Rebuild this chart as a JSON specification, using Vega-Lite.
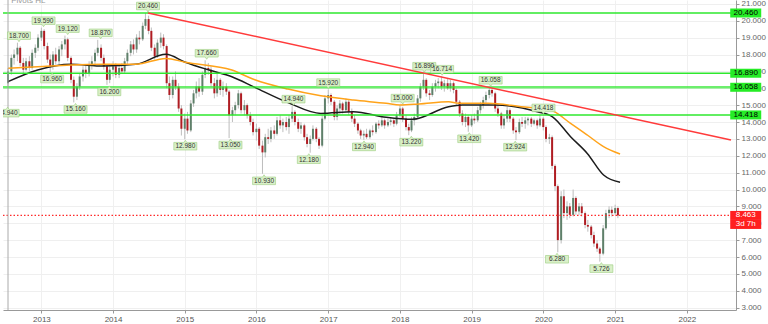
{
"$schema":"https://vega.github.io/schema/vega-lite/v6.json",
"width":733,"height":310,
"autosize":{"type":"none"},
"padding":{"left":3,"top":0,"right":32,"bottom":14},
"background":"white",
"config":{"view":{"stroke":null},"font":"Liberation Sans",
 "axisX":{"title":null,"format":"%Y","labelFontSize":8,"labelColor":"#555","tickSize":3,"tickColor":"#999","domainColor":"#999","grid":true,"gridColor":"#f0f0f0","labelPadding":2,"labelFlush":false,"labelOverlap":false},
 "axisY":{"title":null,"format":".3f","labelFontSize":8,"labelColor":"#666","tickSize":3,"tickColor":"#999","domainColor":"#999","grid":true,"gridColor":"#efefef","labelPadding":2,"labelOverlap":false,"labelBound":false}},
"datasets":{
"candles":[
{"d":"2012-07-15","o":16.3,"h":17.2,"l":16.0,"c":17.0},
{"d":"2012-08-01","o":17.0,"h":18.0,"l":16.8,"c":17.8},
{"d":"2012-08-15","o":17.8,"h":18.3,"l":17.4,"c":18.0},
{"d":"2012-09-01","o":18.0,"h":18.7,"l":17.6,"c":18.4},
{"d":"2012-09-15","o":18.4,"h":18.5,"l":17.3,"c":17.5},
{"d":"2012-10-01","o":17.5,"h":17.8,"l":16.9,"c":17.1},
{"d":"2012-10-15","o":17.1,"h":17.8,"l":17.0,"c":17.6},
{"d":"2012-11-01","o":17.6,"h":17.9,"l":17.0,"c":17.2},
{"d":"2012-11-15","o":17.2,"h":18.3,"l":17.1,"c":18.1},
{"d":"2012-12-01","o":18.1,"h":18.6,"l":17.8,"c":18.4},
{"d":"2012-12-15","o":18.4,"h":19.2,"l":18.2,"c":19.0},
{"d":"2013-01-01","o":19.0,"h":19.59,"l":18.8,"c":19.4},
{"d":"2013-01-15","o":19.4,"h":19.5,"l":18.3,"c":18.5},
{"d":"2013-02-01","o":18.5,"h":18.7,"l":17.5,"c":17.7},
{"d":"2013-02-15","o":17.7,"h":18.0,"l":16.96,"c":17.3},
{"d":"2013-03-01","o":17.3,"h":18.2,"l":17.1,"c":18.0},
{"d":"2013-03-15","o":18.0,"h":18.4,"l":17.4,"c":17.6},
{"d":"2013-04-01","o":17.6,"h":18.5,"l":17.4,"c":18.3},
{"d":"2013-04-15","o":18.3,"h":18.8,"l":17.9,"c":18.6},
{"d":"2013-05-01","o":18.6,"h":19.12,"l":18.3,"c":18.9},
{"d":"2013-05-15","o":18.9,"h":19.0,"l":17.6,"c":17.8},
{"d":"2013-06-01","o":17.8,"h":17.9,"l":16.3,"c":16.5},
{"d":"2013-06-15","o":16.5,"h":16.7,"l":15.16,"c":15.5},
{"d":"2013-07-01","o":15.5,"h":16.3,"l":15.3,"c":16.1},
{"d":"2013-07-15","o":16.1,"h":16.9,"l":15.9,"c":16.7},
{"d":"2013-08-01","o":16.7,"h":17.3,"l":16.4,"c":17.1},
{"d":"2013-08-15","o":17.1,"h":17.4,"l":16.6,"c":16.9},
{"d":"2013-09-01","o":16.9,"h":17.6,"l":16.7,"c":17.4},
{"d":"2013-09-15","o":17.4,"h":17.9,"l":17.1,"c":17.6},
{"d":"2013-10-01","o":17.6,"h":18.3,"l":17.4,"c":18.1},
{"d":"2013-10-15","o":18.1,"h":18.87,"l":17.9,"c":18.4},
{"d":"2013-11-01","o":18.4,"h":18.6,"l":17.6,"c":17.8},
{"d":"2013-11-15","o":17.8,"h":18.0,"l":17.1,"c":17.3},
{"d":"2013-12-01","o":17.3,"h":17.4,"l":16.2,"c":16.5},
{"d":"2013-12-15","o":16.5,"h":17.3,"l":16.3,"c":17.1},
{"d":"2014-01-01","o":17.1,"h":17.6,"l":16.7,"c":17.3},
{"d":"2014-01-15","o":17.3,"h":17.5,"l":16.6,"c":16.8},
{"d":"2014-02-01","o":16.8,"h":17.4,"l":16.6,"c":17.2},
{"d":"2014-02-15","o":17.2,"h":17.5,"l":16.9,"c":17.0},
{"d":"2014-03-01","o":17.0,"h":17.8,"l":16.9,"c":17.6},
{"d":"2014-03-15","o":17.6,"h":18.3,"l":17.4,"c":18.1},
{"d":"2014-04-01","o":18.1,"h":18.8,"l":17.9,"c":18.6},
{"d":"2014-04-15","o":18.6,"h":18.9,"l":18.0,"c":18.3},
{"d":"2014-05-01","o":18.3,"h":19.2,"l":18.1,"c":19.0},
{"d":"2014-05-15","o":19.0,"h":19.4,"l":18.6,"c":18.9},
{"d":"2014-06-01","o":18.9,"h":19.9,"l":18.8,"c":19.7},
{"d":"2014-06-15","o":19.7,"h":20.46,"l":19.5,"c":20.1},
{"d":"2014-07-01","o":20.1,"h":20.3,"l":19.2,"c":19.4},
{"d":"2014-07-15","o":19.4,"h":19.6,"l":18.2,"c":18.4},
{"d":"2014-08-01","o":18.4,"h":18.6,"l":17.7,"c":17.9},
{"d":"2014-08-15","o":17.9,"h":18.9,"l":17.8,"c":18.7},
{"d":"2014-09-01","o":18.7,"h":19.3,"l":18.4,"c":19.0},
{"d":"2014-09-15","o":19.0,"h":19.2,"l":18.3,"c":18.5},
{"d":"2014-10-01","o":18.5,"h":18.6,"l":16.0,"c":16.3},
{"d":"2014-10-15","o":16.3,"h":16.7,"l":15.3,"c":15.6},
{"d":"2014-11-01","o":15.6,"h":16.7,"l":15.4,"c":16.5},
{"d":"2014-11-15","o":16.5,"h":17.0,"l":15.9,"c":16.1},
{"d":"2014-12-01","o":16.1,"h":16.3,"l":14.6,"c":14.8},
{"d":"2014-12-15","o":14.8,"h":15.0,"l":13.2,"c":13.6},
{"d":"2015-01-01","o":13.6,"h":14.5,"l":12.98,"c":14.2},
{"d":"2015-01-15","o":14.2,"h":14.6,"l":13.3,"c":13.5},
{"d":"2015-02-01","o":13.5,"h":15.3,"l":13.4,"c":15.1},
{"d":"2015-02-15","o":15.1,"h":15.9,"l":14.9,"c":15.7},
{"d":"2015-03-01","o":15.7,"h":16.4,"l":15.4,"c":16.1},
{"d":"2015-03-15","o":16.1,"h":16.6,"l":15.5,"c":15.8},
{"d":"2015-04-01","o":15.8,"h":17.0,"l":15.6,"c":16.8},
{"d":"2015-04-15","o":16.8,"h":17.66,"l":16.6,"c":17.2},
{"d":"2015-05-01","o":17.2,"h":17.5,"l":16.8,"c":17.1},
{"d":"2015-05-15","o":17.1,"h":17.3,"l":16.1,"c":16.3},
{"d":"2015-06-01","o":16.3,"h":16.6,"l":15.4,"c":15.7},
{"d":"2015-06-15","o":15.7,"h":16.9,"l":15.5,"c":16.5},
{"d":"2015-07-01","o":16.5,"h":16.6,"l":15.6,"c":15.9},
{"d":"2015-07-15","o":15.9,"h":16.4,"l":15.5,"c":16.1},
{"d":"2015-08-01","o":16.1,"h":16.3,"l":15.6,"c":15.8},
{"d":"2015-08-15","o":15.8,"h":15.9,"l":13.05,"c":14.4},
{"d":"2015-09-01","o":14.4,"h":14.9,"l":14.0,"c":14.7},
{"d":"2015-09-15","o":14.7,"h":15.2,"l":14.4,"c":15.0},
{"d":"2015-10-01","o":15.0,"h":15.9,"l":14.8,"c":15.7},
{"d":"2015-10-15","o":15.7,"h":15.8,"l":14.5,"c":14.7},
{"d":"2015-11-01","o":14.7,"h":15.3,"l":14.4,"c":15.0},
{"d":"2015-11-15","o":15.0,"h":15.1,"l":14.2,"c":14.4},
{"d":"2015-12-01","o":14.4,"h":14.6,"l":13.8,"c":14.0},
{"d":"2015-12-15","o":14.0,"h":14.2,"l":13.2,"c":13.4},
{"d":"2016-01-01","o":13.4,"h":13.9,"l":12.9,"c":13.6},
{"d":"2016-01-15","o":13.6,"h":13.7,"l":12.4,"c":12.6},
{"d":"2016-02-01","o":12.6,"h":12.9,"l":10.93,"c":12.2},
{"d":"2016-02-15","o":12.2,"h":13.3,"l":11.9,"c":13.1},
{"d":"2016-03-01","o":13.1,"h":13.6,"l":12.7,"c":13.0},
{"d":"2016-03-15","o":13.0,"h":13.7,"l":12.8,"c":13.5},
{"d":"2016-04-01","o":13.5,"h":13.8,"l":13.0,"c":13.3},
{"d":"2016-04-15","o":13.3,"h":14.3,"l":13.2,"c":14.1},
{"d":"2016-05-01","o":14.1,"h":14.4,"l":13.6,"c":13.8},
{"d":"2016-05-15","o":13.8,"h":14.2,"l":13.4,"c":14.0},
{"d":"2016-06-01","o":14.0,"h":14.3,"l":13.5,"c":13.7},
{"d":"2016-06-15","o":13.7,"h":14.4,"l":13.3,"c":14.2},
{"d":"2016-07-01","o":14.2,"h":14.94,"l":14.0,"c":14.6},
{"d":"2016-07-15","o":14.6,"h":14.7,"l":13.8,"c":14.0},
{"d":"2016-08-01","o":14.0,"h":14.2,"l":13.4,"c":13.6},
{"d":"2016-08-15","o":13.6,"h":14.0,"l":13.3,"c":13.8},
{"d":"2016-09-01","o":13.8,"h":13.9,"l":12.9,"c":13.1},
{"d":"2016-09-15","o":13.1,"h":13.3,"l":12.5,"c":12.7},
{"d":"2016-10-01","o":12.7,"h":13.2,"l":12.18,"c":13.0},
{"d":"2016-10-15","o":13.0,"h":13.8,"l":12.9,"c":13.6},
{"d":"2016-11-01","o":13.6,"h":13.7,"l":12.8,"c":13.0},
{"d":"2016-11-15","o":13.0,"h":13.1,"l":12.4,"c":12.6},
{"d":"2016-12-01","o":12.6,"h":14.4,"l":12.5,"c":14.2},
{"d":"2016-12-15","o":14.2,"h":15.6,"l":14.1,"c":15.4},
{"d":"2017-01-01","o":15.4,"h":15.92,"l":15.1,"c":15.6},
{"d":"2017-01-15","o":15.6,"h":15.7,"l":15.0,"c":15.2},
{"d":"2017-02-01","o":15.2,"h":15.3,"l":14.1,"c":14.3},
{"d":"2017-02-15","o":14.3,"h":15.0,"l":14.1,"c":14.8},
{"d":"2017-03-01","o":14.8,"h":15.3,"l":14.5,"c":15.1},
{"d":"2017-03-15","o":15.1,"h":15.2,"l":14.5,"c":14.7},
{"d":"2017-04-01","o":14.7,"h":15.4,"l":14.6,"c":15.2},
{"d":"2017-04-15","o":15.2,"h":15.3,"l":14.4,"c":14.6},
{"d":"2017-05-01","o":14.6,"h":14.8,"l":14.0,"c":14.2},
{"d":"2017-05-15","o":14.2,"h":14.4,"l":13.7,"c":13.9},
{"d":"2017-06-01","o":13.9,"h":14.0,"l":13.3,"c":13.5},
{"d":"2017-06-15","o":13.5,"h":13.6,"l":13.0,"c":13.2},
{"d":"2017-07-01","o":13.2,"h":13.5,"l":12.94,"c":13.3},
{"d":"2017-07-15","o":13.3,"h":13.6,"l":13.0,"c":13.1},
{"d":"2017-08-01","o":13.1,"h":13.6,"l":13.0,"c":13.5},
{"d":"2017-08-15","o":13.5,"h":13.8,"l":13.2,"c":13.4},
{"d":"2017-09-01","o":13.4,"h":14.0,"l":13.3,"c":13.9},
{"d":"2017-09-15","o":13.9,"h":14.1,"l":13.6,"c":13.8},
{"d":"2017-10-01","o":13.8,"h":14.3,"l":13.7,"c":14.1},
{"d":"2017-10-15","o":14.1,"h":14.2,"l":13.6,"c":13.8},
{"d":"2017-11-01","o":13.8,"h":14.2,"l":13.7,"c":14.0},
{"d":"2017-11-15","o":14.0,"h":14.3,"l":13.8,"c":14.1},
{"d":"2017-12-01","o":14.1,"h":14.2,"l":13.7,"c":13.9},
{"d":"2017-12-15","o":13.9,"h":14.6,"l":13.8,"c":14.4},
{"d":"2018-01-01","o":14.4,"h":15.0,"l":14.3,"c":14.8},
{"d":"2018-01-15","o":14.8,"h":14.9,"l":14.0,"c":14.2},
{"d":"2018-02-01","o":14.2,"h":14.4,"l":13.5,"c":13.7},
{"d":"2018-02-15","o":13.7,"h":13.9,"l":13.22,"c":13.5},
{"d":"2018-03-01","o":13.5,"h":14.3,"l":13.4,"c":14.1},
{"d":"2018-03-15","o":14.1,"h":14.5,"l":13.8,"c":14.3},
{"d":"2018-04-01","o":14.3,"h":15.6,"l":14.2,"c":15.4},
{"d":"2018-04-15","o":15.4,"h":16.3,"l":15.2,"c":16.1},
{"d":"2018-05-01","o":16.1,"h":16.89,"l":15.9,"c":16.5},
{"d":"2018-05-15","o":16.5,"h":16.6,"l":15.5,"c":15.7},
{"d":"2018-06-01","o":15.7,"h":15.9,"l":15.3,"c":15.6},
{"d":"2018-06-15","o":15.6,"h":16.3,"l":15.5,"c":16.1},
{"d":"2018-07-01","o":16.1,"h":16.5,"l":15.8,"c":16.3},
{"d":"2018-07-15","o":16.3,"h":16.6,"l":16.0,"c":16.4},
{"d":"2018-08-01","o":16.4,"h":16.714,"l":15.9,"c":16.1},
{"d":"2018-08-15","o":16.1,"h":16.5,"l":15.8,"c":16.3},
{"d":"2018-09-01","o":16.3,"h":16.6,"l":15.9,"c":16.0},
{"d":"2018-09-15","o":16.0,"h":16.5,"l":15.8,"c":16.3},
{"d":"2018-10-01","o":16.3,"h":16.4,"l":15.7,"c":15.9},
{"d":"2018-10-15","o":15.9,"h":16.0,"l":15.0,"c":15.2},
{"d":"2018-11-01","o":15.2,"h":15.3,"l":14.3,"c":14.5},
{"d":"2018-11-15","o":14.5,"h":14.7,"l":13.8,"c":14.0},
{"d":"2018-12-01","o":14.0,"h":14.5,"l":13.7,"c":14.3},
{"d":"2018-12-15","o":14.3,"h":14.4,"l":13.42,"c":13.8},
{"d":"2019-01-01","o":13.8,"h":14.4,"l":13.7,"c":14.2},
{"d":"2019-01-15","o":14.2,"h":14.5,"l":13.9,"c":14.1},
{"d":"2019-02-01","o":14.1,"h":14.9,"l":14.0,"c":14.7},
{"d":"2019-02-15","o":14.7,"h":15.2,"l":14.5,"c":15.0},
{"d":"2019-03-01","o":15.0,"h":15.5,"l":14.8,"c":15.3},
{"d":"2019-03-15","o":15.3,"h":15.8,"l":15.1,"c":15.6},
{"d":"2019-04-01","o":15.6,"h":16.058,"l":15.4,"c":15.9},
{"d":"2019-04-15","o":15.9,"h":16.0,"l":15.5,"c":15.7},
{"d":"2019-05-01","o":15.7,"h":15.8,"l":14.6,"c":14.8},
{"d":"2019-05-15","o":14.8,"h":15.0,"l":14.3,"c":14.5},
{"d":"2019-06-01","o":14.5,"h":14.6,"l":13.6,"c":13.8},
{"d":"2019-06-15","o":13.8,"h":14.4,"l":13.6,"c":14.2},
{"d":"2019-07-01","o":14.2,"h":14.9,"l":14.0,"c":14.7},
{"d":"2019-07-15","o":14.7,"h":14.8,"l":14.0,"c":14.2},
{"d":"2019-08-01","o":14.2,"h":14.3,"l":13.3,"c":13.5},
{"d":"2019-08-15","o":13.5,"h":13.7,"l":12.924,"c":13.4},
{"d":"2019-09-01","o":13.4,"h":14.2,"l":13.3,"c":14.0},
{"d":"2019-09-15","o":14.0,"h":14.3,"l":13.7,"c":13.9},
{"d":"2019-10-01","o":13.9,"h":14.3,"l":13.6,"c":14.1},
{"d":"2019-10-15","o":14.1,"h":14.3,"l":13.8,"c":14.2},
{"d":"2019-11-01","o":14.2,"h":14.3,"l":13.7,"c":13.9},
{"d":"2019-11-15","o":13.9,"h":14.2,"l":13.8,"c":14.1},
{"d":"2019-12-01","o":14.1,"h":14.2,"l":13.6,"c":13.8},
{"d":"2019-12-15","o":13.8,"h":14.418,"l":13.7,"c":14.2},
{"d":"2020-01-01","o":14.2,"h":14.3,"l":13.5,"c":13.7},
{"d":"2020-01-15","o":13.7,"h":13.8,"l":12.8,"c":13.0},
{"d":"2020-02-01","o":13.0,"h":13.3,"l":12.7,"c":13.1},
{"d":"2020-02-15","o":13.1,"h":13.2,"l":11.2,"c":11.4},
{"d":"2020-03-01","o":11.4,"h":11.5,"l":9.9,"c":10.2},
{"d":"2020-03-15","o":10.2,"h":10.3,"l":6.28,"c":7.0},
{"d":"2020-04-01","o":7.0,"h":9.9,"l":6.8,"c":9.6},
{"d":"2020-04-15","o":9.6,"h":10.0,"l":8.3,"c":8.6},
{"d":"2020-05-01","o":8.6,"h":9.3,"l":8.2,"c":9.0},
{"d":"2020-05-15","o":9.0,"h":9.2,"l":8.3,"c":8.5},
{"d":"2020-06-01","o":8.5,"h":10.0,"l":8.4,"c":9.5},
{"d":"2020-06-15","o":9.5,"h":9.6,"l":8.5,"c":8.7},
{"d":"2020-07-01","o":8.7,"h":9.2,"l":8.5,"c":9.0},
{"d":"2020-07-15","o":9.0,"h":9.2,"l":8.4,"c":8.6},
{"d":"2020-08-01","o":8.6,"h":8.7,"l":7.7,"c":7.9},
{"d":"2020-08-15","o":7.9,"h":8.2,"l":7.5,"c":7.8},
{"d":"2020-09-01","o":7.8,"h":7.9,"l":7.1,"c":7.3},
{"d":"2020-09-15","o":7.3,"h":7.5,"l":6.6,"c":6.8},
{"d":"2020-10-01","o":6.8,"h":7.0,"l":6.3,"c":6.5},
{"d":"2020-10-15","o":6.5,"h":6.6,"l":5.726,"c":6.2},
{"d":"2020-11-01","o":6.2,"h":7.9,"l":6.1,"c":7.7},
{"d":"2020-11-15","o":7.7,"h":8.8,"l":7.6,"c":8.6},
{"d":"2020-12-01","o":8.6,"h":9.0,"l":8.3,"c":8.8},
{"d":"2020-12-15","o":8.8,"h":9.0,"l":8.4,"c":8.6},
{"d":"2021-01-01","o":8.6,"h":9.1,"l":8.5,"c":8.9},
{"d":"2021-01-15","o":8.9,"h":9.0,"l":8.3,"c":8.463}
],
"ma":[
{"d":"2012-07-15","v":16.39,"s":"a"},{"d":"2012-12-13","v":17.08,"s":"a"},{"d":"2013-05-30","v":17.42,"s":"a"},{"d":"2013-11-14","v":17.32,"s":"a"},{"d":"2014-04-27","v":17.42,"s":"a"},{"d":"2014-09-27","v":18.01,"s":"a"},{"d":"2015-01-04","v":17.54,"s":"a"},{"d":"2015-05-05","v":17.08,"s":"a"},{"d":"2015-08-29","v":16.68,"s":"a"},{"d":"2015-12-24","v":16.05,"s":"a"},{"d":"2016-06-10","v":15.15,"s":"a"},{"d":"2016-11-24","v":14.51,"s":"a"},{"d":"2017-05-08","v":14.61,"s":"a"},{"d":"2017-10-23","v":14.28,"s":"a"},{"d":"2018-03-07","v":14.16,"s":"a"},{"d":"2018-09-06","v":14.91,"s":"a"},{"d":"2018-11-14","v":15.01,"s":"a"},{"d":"2019-05-01","v":15.01,"s":"a"},{"d":"2019-12-02","v":14.61,"s":"a"},{"d":"2020-02-17","v":14.31,"s":"a"},{"d":"2020-05-19","v":13.13,"s":"a"},{"d":"2020-08-12","v":12.14,"s":"a"},{"d":"2020-11-03","v":10.86,"s":"a"},{"d":"2021-01-26","v":10.43,"s":"a"},
{"d":"2012-07-15","v":17.18,"s":"b"},{"d":"2012-12-13","v":17.27,"s":"b"},{"d":"2013-05-30","v":17.38,"s":"b"},{"d":"2013-11-14","v":17.42,"s":"b"},{"d":"2014-04-27","v":17.42,"s":"b"},{"d":"2014-09-27","v":17.77,"s":"b"},{"d":"2015-01-04","v":17.54,"s":"b"},{"d":"2015-08-29","v":17.08,"s":"b"},{"d":"2015-12-24","v":16.5,"s":"b"},{"d":"2016-06-10","v":15.95,"s":"b"},{"d":"2016-11-24","v":15.55,"s":"b"},{"d":"2017-05-08","v":15.3,"s":"b"},{"d":"2017-10-23","v":15.11,"s":"b"},{"d":"2018-01-01","v":15.01,"s":"b"},{"d":"2018-04-09","v":15.07,"s":"b"},{"d":"2018-09-06","v":15.2,"s":"b"},{"d":"2018-10-27","v":15.11,"s":"b"},{"d":"2019-03-26","v":15.11,"s":"b"},{"d":"2019-09-10","v":14.91,"s":"b"},{"d":"2020-02-06","v":14.71,"s":"b"},{"d":"2020-05-19","v":13.92,"s":"b"},{"d":"2020-08-12","v":13.23,"s":"b"},{"d":"2020-11-03","v":12.54,"s":"b"},{"d":"2021-01-26","v":12.1,"s":"b"}
],
"levels":[{"v":20.46},{"v":16.89},{"v":16.058},{"v":14.418}],
"trend":[{"d":"2014-06-28","v":20.46},{"d":"2022-08-14","v":12.93}],
"pivots":[
{"d":"2012-09-09","v":18.7,"t":"18.700","k":"h"},
{"d":"2013-01-12","v":19.59,"t":"19.590","k":"h"},
{"d":"2013-05-15","v":19.12,"t":"19.120","k":"h"},
{"d":"2013-10-30","v":18.87,"t":"18.870","k":"h"},
{"d":"2014-06-28","v":20.46,"t":"20.460","k":"h"},
{"d":"2015-04-23","v":17.66,"t":"17.660","k":"h"},
{"d":"2016-07-08","v":14.94,"t":"14.940","k":"h"},
{"d":"2017-01-01","v":15.92,"t":"15.920","k":"h"},
{"d":"2018-01-15","v":15.0,"t":"15.000","k":"h"},
{"d":"2018-05-05","v":16.89,"t":"16.890","k":"h"},
{"d":"2018-08-04","v":16.714,"t":"16.714","k":"h"},
{"d":"2019-04-08","v":16.058,"t":"16.058","k":"h"},
{"d":"2020-01-02","v":14.418,"t":"14.418","k":"h"},
{"d":"2012-07-13","v":14.94,"t":"14.940","k":"l"},
{"d":"2013-02-25","v":16.96,"t":"16.960","k":"l"},
{"d":"2013-06-24","v":15.16,"t":"15.160","k":"l"},
{"d":"2013-12-13","v":16.2,"t":"16.200","k":"l"},
{"d":"2015-01-04","v":12.98,"t":"12.980","k":"l"},
{"d":"2015-08-22","v":13.05,"t":"13.050","k":"l"},
{"d":"2016-02-09","v":10.93,"t":"10.930","k":"l"},
{"d":"2016-09-24","v":12.18,"t":"12.180","k":"l"},
{"d":"2017-07-02","v":12.94,"t":"12.940","k":"l"},
{"d":"2018-02-28","v":13.22,"t":"13.220","k":"l"},
{"d":"2018-12-20","v":13.42,"t":"13.420","k":"l"},
{"d":"2019-08-11","v":12.924,"t":"12.924","k":"l"},
{"d":"2020-03-11","v":6.28,"t":"6.280","k":"l"},
{"d":"2020-10-23","v":5.726,"t":"5.726","k":"l"}
],
"tags":[
{"v":20.46,"t":"20.460","k":"g"},
{"v":16.89,"t":"16.890","k":"g"},
{"v":16.058,"t":"16.058","k":"g"},
{"v":14.418,"t":"14.418","k":"g"},
{"v":8.463,"t":"8.463","k":"r"},
{"v":8.463,"t":"3d 7h","k":"c"}
],
"title":[{"d":"2012-07-31","v":21.2,"t":"Pivots HL"}],
"edge":[{"d":"2012-07-15"}]
},
"layer":[
{"data":{"name":"candles"},
 "mark":{"type":"rule","color":"#bdbdbd","strokeWidth":1},
 "encoding":{
  "x":{"field":"d","type":"temporal","scale":{"type":"time","domain":[{"year":2012,"month":7,"date":15},{"year":2022,"month":8,"date":14}]},
       "axis":{"title":null,"values":[{"year":2013,"month":1,"date":1},{"year":2014,"month":1,"date":1},{"year":2015,"month":1,"date":1},{"year":2016,"month":1,"date":1},{"year":2017,"month":1,"date":1},{"year":2018,"month":1,"date":1},{"year":2019,"month":1,"date":1},{"year":2020,"month":1,"date":1},{"year":2021,"month":1,"date":1},{"year":2022,"month":1,"date":1}],"format":"%Y","labelOverlap":false}},
  "y":{"field":"l","type":"quantitative","scale":{"domain":[2.86,21.23],"nice":false,"zero":false},
       "axis":{"title":null,"orient":"right","values":[3,4,5,6,7,8,9,10,11,12,13,14,15,16,17,18,19,20,21],"format":".3f","labelOverlap":false}},
  "y2":{"field":"h"}}},
{"data":{"name":"candles"},
 "mark":{"type":"bar","width":2},
 "encoding":{
  "x":{"field":"d","type":"temporal","title":null,"scale":{"type":"time","domain":[{"year":2012,"month":7,"date":15},{"year":2022,"month":8,"date":14}]}},
  "y":{"field":"o","type":"quantitative","scale":{"domain":[2.86,21.23],"nice":false,"zero":false},"axis":{"title":null,"orient":"right","values":[3,4,5,6,7,8,9,10,11,12,13,14,15,16,17,18,19,20,21],"format":".3f","labelOverlap":false}},
  "y2":{"field":"c"},
  "color":{"condition":{"test":"datum.c >= datum.o","value":"#5f806a"},"value":"#b01c22"}}},
{"data":{"name":"ma"},
 "mark":{"type":"line","strokeWidth":1.5,"interpolate":"monotone"},
 "encoding":{
  "x":{"field":"d","type":"temporal","title":null,"scale":{"type":"time","domain":[{"year":2012,"month":7,"date":15},{"year":2022,"month":8,"date":14}]}},
  "y":{"field":"v","type":"quantitative","scale":{"domain":[2.86,21.23],"nice":false,"zero":false},"axis":{"title":null,"orient":"right","values":[3,4,5,6,7,8,9,10,11,12,13,14,15,16,17,18,19,20,21],"format":".3f","labelOverlap":false}},
  "color":{"field":"s","type":"nominal","scale":{"domain":["a","b"],"range":["#1c1c1c","#ffa31a"]},"legend":null}}},
{"data":{"name":"levels"},
 "mark":{"type":"rule","color":"#2ee82e"},
 "encoding":{
  "y":{"field":"v","type":"quantitative","scale":{"domain":[2.86,21.23],"nice":false,"zero":false},"axis":{"title":null,"orient":"right","values":[3,4,5,6,7,8,9,10,11,12,13,14,15,16,17,18,19,20,21],"format":".3f","labelOverlap":false}},
  "strokeWidth":{"condition":{"test":"datum.v == 16.058","value":2.6},"value":1.5},
  "opacity":{"condition":{"test":"datum.v == 16.058","value":0.7},"value":1}}},
{"data":{"name":"trend"},
 "mark":{"type":"line","color":"#ff3b3b","strokeWidth":1.5},
 "encoding":{
  "x":{"field":"d","type":"temporal","title":null,"scale":{"type":"time","domain":[{"year":2012,"month":7,"date":15},{"year":2022,"month":8,"date":14}]}},
  "y":{"field":"v","type":"quantitative","scale":{"domain":[2.86,21.23],"nice":false,"zero":false},"axis":{"title":null,"orient":"right","values":[3,4,5,6,7,8,9,10,11,12,13,14,15,16,17,18,19,20,21],"format":".3f","labelOverlap":false}}}},
{"data":{"name":"tags"},"transform":[{"filter":"datum.k == 'r'"}],
 "mark":{"type":"rule","stroke":"#ff2a2a","color":"#ff2a2a","strokeDash":[1.5,2],"strokeWidth":1.2},
 "encoding":{"y":{"field":"v","type":"quantitative","scale":{"domain":[2.86,21.23],"nice":false,"zero":false},"axis":{"title":null,"orient":"right","values":[3,4,5,6,7,8,9,10,11,12,13,14,15,16,17,18,19,20,21],"format":".3f","labelOverlap":false}}}},
{"data":{"name":"edge"},
 "mark":{"type":"rule","color":"#aaaaaa","strokeWidth":1},
 "encoding":{"x":{"field":"d","type":"temporal","title":null,"scale":{"type":"time","domain":[{"year":2012,"month":7,"date":15},{"year":2022,"month":8,"date":14}]}}}},
{"data":{"name":"pivots"},"transform":[{"filter":"datum.k == 'h'"}],
 "mark":{"type":"point","shape":"M-1.15,-0.38L1.15,-0.38L1.15,0.38L0.15,0.38L0,0.6L-0.15,0.38L-1.15,0.38Z","size":400,"filled":true,"color":"#d9f0c8","stroke":"#9ccc80","strokeWidth":0.6,"opacity":1,"yOffset":-7,"clip":true},
 "encoding":{
  "x":{"field":"d","type":"temporal","title":null,"scale":{"type":"time","domain":[{"year":2012,"month":7,"date":15},{"year":2022,"month":8,"date":14}]}},
  "y":{"field":"v","type":"quantitative","scale":{"domain":[2.86,21.23],"nice":false,"zero":false},"axis":{"title":null,"orient":"right","values":[3,4,5,6,7,8,9,10,11,12,13,14,15,16,17,18,19,20,21],"format":".3f","labelOverlap":false}}}},
{"data":{"name":"pivots"},"transform":[{"filter":"datum.k == 'h'"}],
 "mark":{"type":"text","fontSize":6.5,"color":"#333","yOffset":-7,"clip":true,"align":"center","baseline":"middle"},
 "encoding":{
  "x":{"field":"d","type":"temporal","title":null,"scale":{"type":"time","domain":[{"year":2012,"month":7,"date":15},{"year":2022,"month":8,"date":14}]}},
  "y":{"field":"v","type":"quantitative","scale":{"domain":[2.86,21.23],"nice":false,"zero":false},"axis":{"title":null,"orient":"right","values":[3,4,5,6,7,8,9,10,11,12,13,14,15,16,17,18,19,20,21],"format":".3f","labelOverlap":false}},
  "text":{"field":"t"}}},
{"data":{"name":"pivots"},"transform":[{"filter":"datum.k == 'l'"}],
 "mark":{"type":"point","shape":"M-1.15,-0.38L-0.15,-0.38L0,-0.6L0.15,-0.38L1.15,-0.38L1.15,0.38L-1.15,0.38Z","size":400,"filled":true,"color":"#d9f0c8","stroke":"#9ccc80","strokeWidth":0.6,"opacity":1,"yOffset":7,"clip":true},
 "encoding":{
  "x":{"field":"d","type":"temporal","title":null,"scale":{"type":"time","domain":[{"year":2012,"month":7,"date":15},{"year":2022,"month":8,"date":14}]}},
  "y":{"field":"v","type":"quantitative","scale":{"domain":[2.86,21.23],"nice":false,"zero":false},"axis":{"title":null,"orient":"right","values":[3,4,5,6,7,8,9,10,11,12,13,14,15,16,17,18,19,20,21],"format":".3f","labelOverlap":false}}}},
{"data":{"name":"pivots"},"transform":[{"filter":"datum.k == 'l'"}],
 "mark":{"type":"text","fontSize":6.5,"color":"#333","yOffset":7,"clip":true,"align":"center","baseline":"middle"},
 "encoding":{
  "x":{"field":"d","type":"temporal","title":null,"scale":{"type":"time","domain":[{"year":2012,"month":7,"date":15},{"year":2022,"month":8,"date":14}]}},
  "y":{"field":"v","type":"quantitative","scale":{"domain":[2.86,21.23],"nice":false,"zero":false},"axis":{"title":null,"orient":"right","values":[3,4,5,6,7,8,9,10,11,12,13,14,15,16,17,18,19,20,21],"format":".3f","labelOverlap":false}},
  "text":{"field":"t"}}},
{"data":{"name":"tags"},"transform":[{"filter":"datum.k != 'c'"}],
 "mark":{"type":"point","shape":"M-1.55,-0.45L1.55,-0.45L1.55,0.45L-1.55,0.45Z","size":400,"filled":true,"opacity":1,"clip":false},
 "encoding":{
  "x":{"datum":{"year":2022,"month":10,"date":28},"type":"temporal","title":null,"scale":{"type":"time","domain":[{"year":2012,"month":7,"date":15},{"year":2022,"month":8,"date":14}]}},
  "y":{"field":"v","type":"quantitative","scale":{"domain":[2.86,21.23],"nice":false,"zero":false},"axis":{"title":null,"orient":"right","values":[3,4,5,6,7,8,9,10,11,12,13,14,15,16,17,18,19,20,21],"format":".3f","labelOverlap":false}},
  "color":{"condition":{"test":"datum.k == 'g'","value":"#26ec26"},"value":"#ff1f1f"}}},
{"data":{"name":"tags"},"transform":[{"filter":"datum.k == 'c'"}],
 "mark":{"type":"point","shape":"M-1.55,-0.45L1.55,-0.45L1.55,0.45L-1.55,0.45Z","size":400,"filled":true,"opacity":1,"clip":false,"yOffset":9,"color":"#ff1f1f"},
 "encoding":{
  "x":{"datum":{"year":2022,"month":10,"date":28},"type":"temporal","title":null,"scale":{"type":"time","domain":[{"year":2012,"month":7,"date":15},{"year":2022,"month":8,"date":14}]}},
  "y":{"field":"v","type":"quantitative","scale":{"domain":[2.86,21.23],"nice":false,"zero":false},"axis":{"title":null,"orient":"right","values":[3,4,5,6,7,8,9,10,11,12,13,14,15,16,17,18,19,20,21],"format":".3f","labelOverlap":false}}}},
{"data":{"name":"tags"},"transform":[{"filter":"datum.k != 'c'"}],
 "mark":{"type":"text","fontSize":8,"clip":false,"align":"center","baseline":"middle"},
 "encoding":{
  "x":{"datum":{"year":2022,"month":10,"date":28},"type":"temporal","title":null,"scale":{"type":"time","domain":[{"year":2012,"month":7,"date":15},{"year":2022,"month":8,"date":14}]}},
  "y":{"field":"v","type":"quantitative","scale":{"domain":[2.86,21.23],"nice":false,"zero":false},"axis":{"title":null,"orient":"right","values":[3,4,5,6,7,8,9,10,11,12,13,14,15,16,17,18,19,20,21],"format":".3f","labelOverlap":false}},
  "text":{"field":"t"},
  "color":{"condition":{"test":"datum.k == 'g'","value":"#000000"},"value":"#ffffff"}}},
{"data":{"name":"tags"},"transform":[{"filter":"datum.k == 'c'"}],
 "mark":{"type":"text","fontSize":8,"clip":false,"align":"center","baseline":"middle","yOffset":9,"color":"#ffffff"},
 "encoding":{
  "x":{"datum":{"year":2022,"month":10,"date":28},"type":"temporal","title":null,"scale":{"type":"time","domain":[{"year":2012,"month":7,"date":15},{"year":2022,"month":8,"date":14}]}},
  "y":{"field":"v","type":"quantitative","scale":{"domain":[2.86,21.23],"nice":false,"zero":false},"axis":{"title":null,"orient":"right","values":[3,4,5,6,7,8,9,10,11,12,13,14,15,16,17,18,19,20,21],"format":".3f","labelOverlap":false}},
  "text":{"field":"t"}}},
{"data":{"name":"title"},
 "mark":{"type":"text","fontSize":8,"color":"#999","align":"left","baseline":"middle","clip":false},
 "encoding":{
  "x":{"field":"d","type":"temporal","title":null,"scale":{"type":"time","domain":[{"year":2012,"month":7,"date":15},{"year":2022,"month":8,"date":14}]}},
  "y":{"field":"v","type":"quantitative","scale":{"domain":[2.86,21.23],"nice":false,"zero":false},"axis":{"title":null,"orient":"right","values":[3,4,5,6,7,8,9,10,11,12,13,14,15,16,17,18,19,20,21],"format":".3f","labelOverlap":false}},
  "text":{"field":"t"}}}
]
}
